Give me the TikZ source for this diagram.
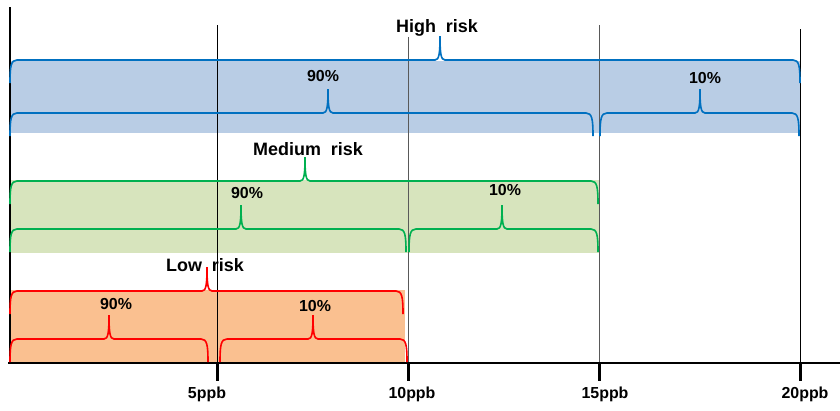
\documentclass[tikz,border=0pt]{standalone}
\usepackage{fontspec}
\setmainfont{Liberation Sans}
\definecolor{highline}{HTML}{0070C0}
\definecolor{highfill}{HTML}{B9CDE5}
\definecolor{medline}{HTML}{00B050}
\definecolor{medfill}{HTML}{D7E4BD}
\definecolor{lowline}{HTML}{FF0000}
\definecolor{lowfill}{HTML}{FAC090}
\tikzset{
    riskline/.style={line width=1.6bp},
    gridline/.style={line width=0.9bp},
    pct/.style={font=\bfseries\fontsize{16}{16}\selectfont, inner sep=0pt, anchor=base},
    risktitle/.style={font=\bfseries\fontsize{18}{18}\selectfont, inner sep=0pt, anchor=base},
    ppb/.style={font=\bfseries\fontsize{16}{16}\selectfont, inner sep=0pt, anchor=base},
}
% colour, left end, right end, tip, height
\newcommand{\riskbrace}[5]{%
    \draw[riskline, #1] (#2,#5+23) .. controls (#2,#5+6) and (#2+1,#5) .. (#2+7,#5)
        -- (#4-5,#5) .. controls (#4-1,#5) and (#4,#5-6) .. (#4,#5-24)
        .. controls (#4,#5-6) and (#4+1,#5) .. (#4+5,#5)
        -- (#3-7,#5) .. controls (#3-1,#5) and (#3,#5+6) .. (#3,#5+23);}
\begin{document}
\begin{tikzpicture}[x=1bp, y=-1bp]
    \useasboundingbox (0,0) rectangle (840,410);
    % bands
    \fill[highfill] (10,61) rectangle (800,133);
    \fill[medfill] (10,180) rectangle (599,253);
    \fill[lowfill] (10,290) rectangle (405,363);
    % grid lines
    \draw[line width=1.8bp] (10,7) -- (10,363);
    \draw[gridline] (217,25) -- (217,363);
    \draw[gridline, black!65] (408,37) -- (408,363);
    \draw[gridline, black!65] (599,25) -- (599,363);
    \draw[gridline] (800,29) -- (800,363);
    \draw[line width=1.8bp] (8,363) -- (840,363);
    \foreach \x in {217,408,599,800}
        \draw[line width=3bp] (\x,363) -- (\x,381);
    % high risk
    \riskbrace{highline}{10}{800}{440}{60}
    \riskbrace{highline}{10}{593}{328}{113}
    \riskbrace{highline}{600}{799}{700}{113}
    \node[risktitle] (high) at (437,32) {High\ \ risk};
    \node[pct] (high90) at (323,81) {90\%};
    \node[pct] (high10) at (705,83) {10\%};
    % medium risk
    \riskbrace{medline}{10}{598}{305}{181}
    \riskbrace{medline}{10}{406}{241}{229}
    \riskbrace{medline}{409}{598}{502}{229}
    \node[risktitle] (medium) at (308,155) {Medium\ \ risk};
    \node[pct] (med90) at (247,198) {90\%};
    \node[pct] (med10) at (505,195) {10\%};
    % low risk
    \riskbrace{lowline}{10}{403}{207}{291}
    \riskbrace{lowline}{10}{208}{109}{339}
    \riskbrace{lowline}{220}{407}{313}{339}
    \node[risktitle] (low) at (205,271) {Low\ \ risk};
    \node[pct] (low90) at (116,309) {90\%};
    \node[pct] (low10) at (315,311) {10\%};
    % axis labels
    \node[ppb] (p5) at (207,398) {5ppb};
    \node[ppb] (p10) at (412,398) {10ppb};
    \node[ppb] (p15) at (605,398) {15ppb};
    \node[ppb] (p20) at (805,398) {20ppb};
\end{tikzpicture}
\end{document}
